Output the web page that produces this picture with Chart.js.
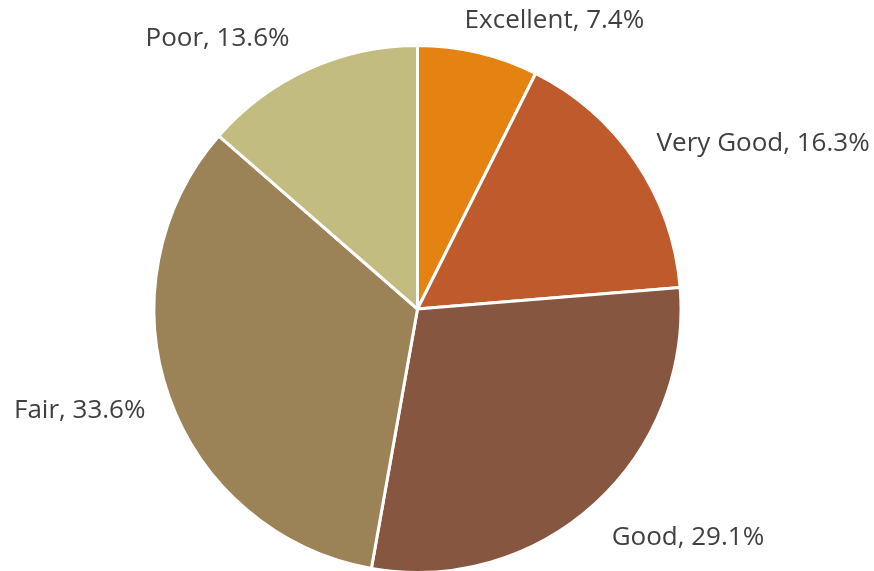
<!DOCTYPE html>
<html>
<head>
<meta charset="utf-8">
<script src="https://cdn.jsdelivr.net/npm/chart.js@4"></script>
<style>
  html, body { margin: 0; padding: 0; background: #fff; overflow: hidden; }
  #wrap { width: 874px; height: 580px; }
</style>
</head>
<body>
<div id="wrap"><canvas id="pieChart"></canvas></div>
<script>
const categories = ["Excellent", "Very Good", "Good", "Fair", "Poor"];
const shares = [7.4, 16.3, 29.1, 33.6, 13.6];
const colors = ["#E48212", "#BE5A2C", "#865640", "#9C8357", "#C3BC80"];

// outside-end labels, "Name, 12.3%"
const outsideLabels = {
    id: "outsideLabels",
    afterDatasetsDraw(chart) {
        const ctx = chart.ctx;
        const meta = chart.getDatasetMeta(0);
        ctx.save();
        ctx.font = "26px 'Open Sans'";
        ctx.fillStyle = "#404040";
        meta.data.forEach((arc, i) => {
            const mid = (arc.startAngle + arc.endAngle) / 2;
            const dx = Math.cos(mid), dy = Math.sin(mid);
            const r = arc.outerRadius + 25;
            let x = arc.x + dx * r;
            let y = arc.y + dy * r;
            const text = categories[i] + ", " + shares[i].toFixed(1) + "%";
            const w = ctx.measureText(text).width;
            ctx.textAlign = dx >= 0 ? "left" : "right";
            if (dx >= 0 && dx < 0.5) x -= w * 0.14 * (1 - dx);
            if (dx < 0 && dx > -0.5) x -= w * 0.1 * (1 + dx);
            ctx.textBaseline = dy < -0.7 ? "bottom" : (dy > 0.7 ? "top" : "middle");
            if (dy < -0.7) y += 5;
            if (dy > 0.7) y += 2;
            if (dy > -0.7 && dy < 0.7) y += dy * 10 + 2;
            ctx.fillText(text, x, y);
        });
        ctx.restore();
    }
};

new Chart(document.getElementById("pieChart"), {
    type: "pie",
    data: {
        labels: categories,
        datasets: [{
            data: shares,
            backgroundColor: colors,
            borderColor: "#ffffff",
            borderWidth: 3
        }]
    },
    options: {
        responsive: true,
        maintainAspectRatio: false,
        animation: false,
        layout: { padding: { top: 44, bottom: 6, left: 0, right: 39 } },
        plugins: {
            legend: { display: false },
            tooltip: { enabled: false }
        }
    },
    plugins: [outsideLabels]
});
</script>
</body>
</html>
